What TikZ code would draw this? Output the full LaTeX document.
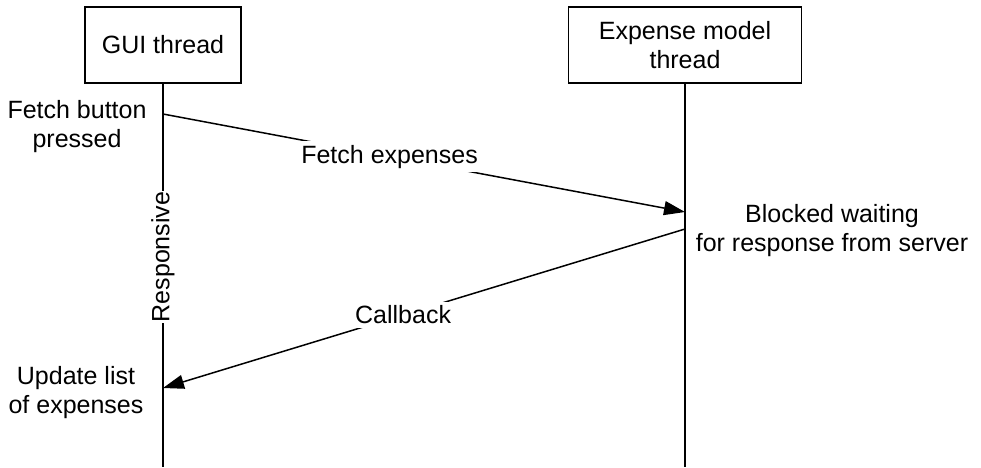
\documentclass[tikz,border=0pt]{standalone}
\usepackage{fontspec}
\setmainfont{Liberation Sans}
\usetikzlibrary{arrows.meta, positioning}

\begin{document}
\begin{tikzpicture}[x=1pt, y=-1pt, line width=1.5pt]
    % settings for this picture
    \tikzset{
      every node/.style={font=\fontsize{25}{29}\selectfont, align=center},
      thread/.style={draw, minimum height=76pt, inner sep=4pt},
      msg/.style={-{Triangle[length=21pt, width=14pt]}},
      msglabel/.style={fill=white, inner xsep=13pt, inner ysep=4pt},
    }
    \useasboundingbox (0,0) rectangle (981,467);

    % threads
    \node[thread, minimum width=156pt] (gui) at (163,45) {GUI thread};
    \node[thread, minimum width=233pt] (model) at (685,45) {Expense model\\thread};
    \coordinate (gui end) at (163,467);
    \coordinate (model end) at (685,467);

    % lifelines
    \draw (gui) -- (gui end);
    \draw (model) -- (model end);
    \node[rotate=90, fill=white, inner sep=1pt] (responsive) at (163,257) {Responsive};

    % events
    \coordinate (press) at (163,114);
    \coordinate (fetched) at (685,212);
    \coordinate (reply) at (685,229);
    \coordinate (update) at (163,388);
    \node (pressed) at (77,127) {Fetch button\\pressed};
    \node (blocked) at (832,231) {Blocked waiting\\for response from server};
    \node (updated) at (76,393) {Update list\\of expenses};

    % messages
    \draw[msg] (press) -- node[msglabel, pos=0.434] (fetch) {Fetch expenses} (fetched);
    \draw[msg] (reply) -- node[msglabel, pos=0.54] (callback) {Callback} (update);

\end{tikzpicture}
\end{document}
